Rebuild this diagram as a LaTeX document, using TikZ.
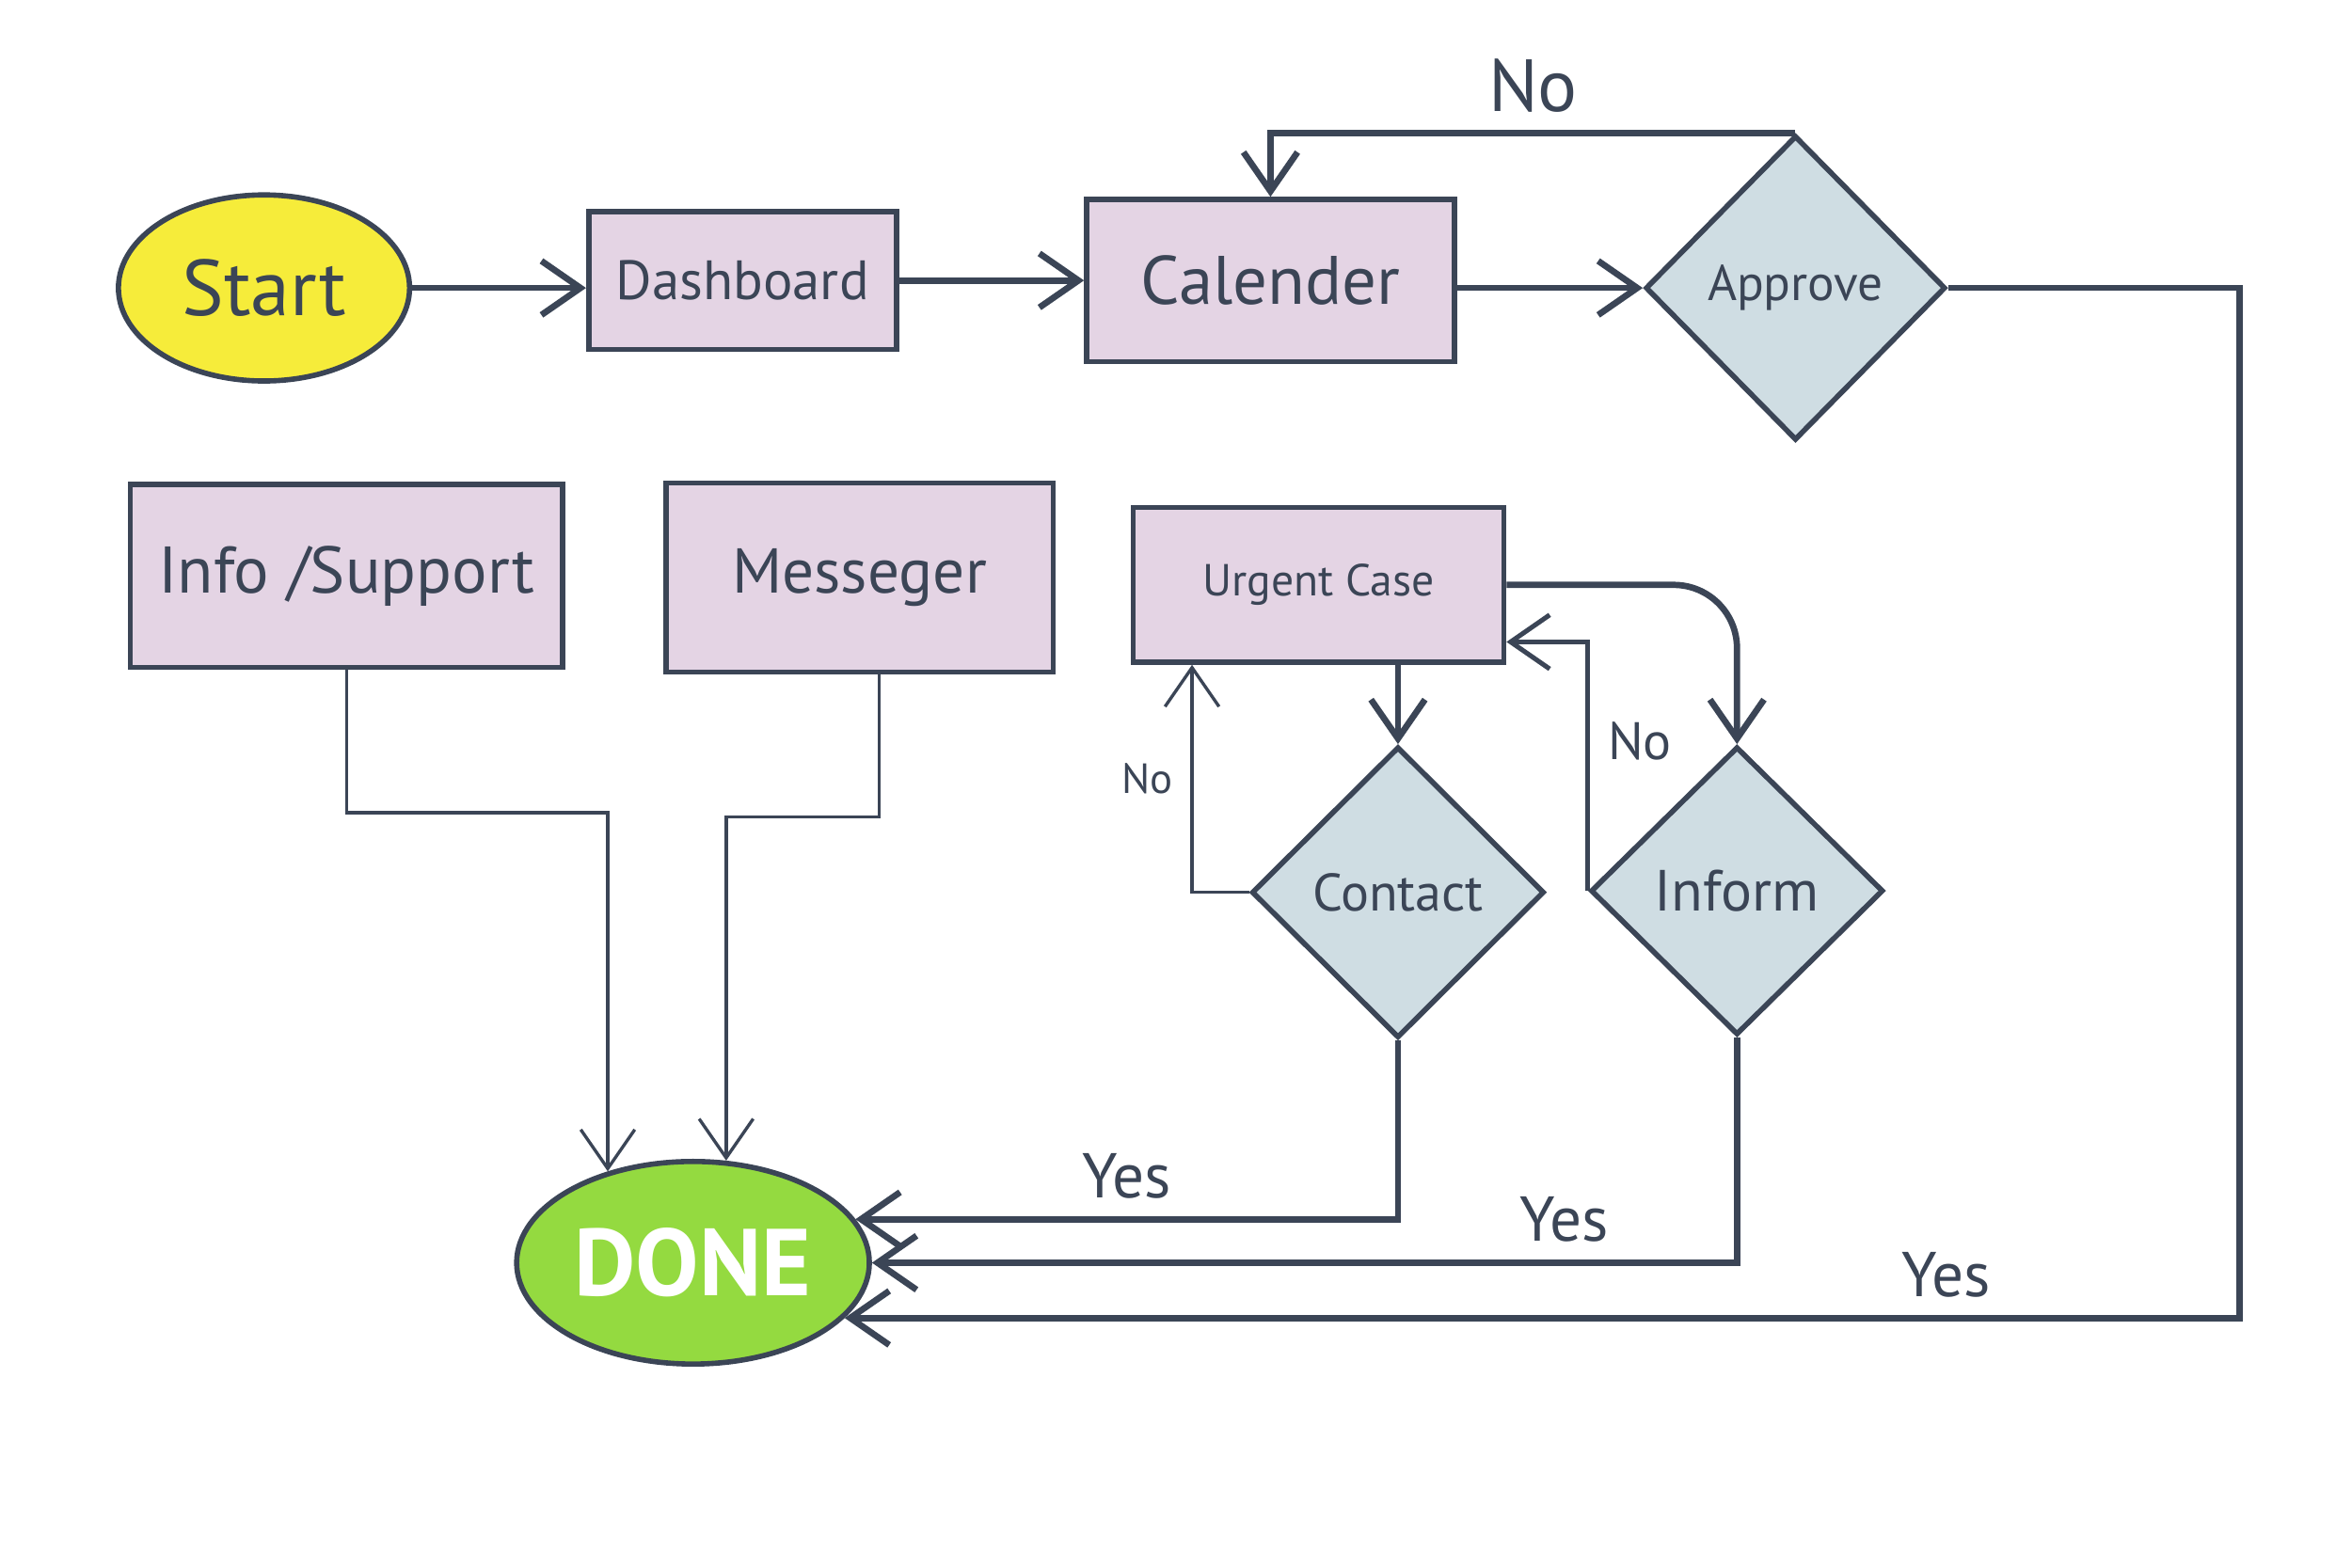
\documentclass[tikz,border=0pt]{standalone}
\usepackage{fontspec}
\setmainfont{PT Sans}
\usepackage{xcolor}
\usepackage{tikz}
\usetikzlibrary{arrows.meta, shapes.geometric}

\definecolor{ink}{HTML}{3B4556}
\definecolor{lilac}{HTML}{E4D4E4}
\definecolor{sky}{HTML}{CFDDE3}
\definecolor{sunny}{HTML}{F6EC3A}
\definecolor{lime}{HTML}{94DA40}

\begin{document}
\begin{tikzpicture}[
  x=0.01cm, y=-0.01cm,
  >={Straight Barb[length=2.6mm, width=3.6mm]},
  proc/.style={draw=ink, line width=1pt, fill=lilac, text=ink},
  dec/.style={draw=ink, line width=1pt, fill=sky, diamond, inner sep=0pt, text=ink},
  term/.style={draw=ink, line width=1pt, ellipse, inner sep=0pt},
  flow/.style={->, draw=ink, line width=1.2pt},
  thinflow/.style={->, draw=ink, line width=0.6pt},
  answer/.style={text=ink, font=\fontsize{12}{14}\selectfont},
]
\useasboundingbox (0,0) rectangle (1568,1045);
% Top row
\node[term, fill=sunny, minimum width=1.94cm, minimum height=1.24cm, text=ink,
      font=\fontsize{15}{18}\selectfont] (start) at (176,192) {Start};
\node[proc, minimum width=2.05cm, minimum height=0.92cm,
      font=\fontsize{10.5}{13}\selectfont] (dash) at (495,187) {Dashboard};
\node[proc, minimum width=2.45cm, minimum height=1.08cm,
      font=\fontsize{13}{16}\selectfont] (cal) at (847,187) {Calender};
\node[dec, minimum width=2.0cm, minimum height=2.03cm,
      font=\fontsize{9.5}{12}\selectfont] (appr) at (1197,192) {Approve};
% Middle row
\node[proc, minimum width=2.88cm, minimum height=1.22cm,
      font=\fontsize{12.5}{15}\selectfont] (info) at (231,384) {Info /Support};
\node[proc, minimum width=2.58cm, minimum height=1.26cm,
      font=\fontsize{12}{15}\selectfont] (mess) at (573,385) {Messeger};
\node[proc, minimum width=2.47cm, minimum height=1.03cm,
      font=\fontsize{8.5}{10}\selectfont] (urg) at (879,390) {Urgent Case};
\node[dec, minimum width=1.95cm, minimum height=1.94cm,
      font=\fontsize{10}{12}\selectfont] (cont) at (932,595) {Contact};
\node[dec, minimum width=1.95cm, minimum height=1.92cm,
      font=\fontsize{11}{13}\selectfont] (inf) at (1158,594) {Inform};
% End
\node[term, fill=lime, minimum width=2.35cm, minimum height=1.35cm, text=white,
      font=\bfseries\fontsize{18}{22}\selectfont] (done) at (462,842) {DONE};
\coordinate (rgt) at (1493,0);
% top row arrows
\draw[flow] (start.east) -- (start.east -| dash.west);
\draw[flow] (dash) -- (cal);
\draw[flow] (cal.east |- appr.west) -- (appr.west);
\draw[flow] (appr.north) -| node[answer, pos=0.25, above, font=\fontsize{14}{16}\selectfont] {No} (cal.north);
\draw[flow] (appr.east) -| (rgt |- done.-20)
      -- node[answer, pos=0.21, above] {Yes} (done.-20);
% urgent case loop
\draw[flow] (cont.north |- urg.south) -- (cont.north);
\draw[flow, rounded corners=12] (urg.east) -| (inf.north);
\draw[thinflow] (cont.west) -| node[answer, pos=0.75, left, font=\fontsize{8}{10}\selectfont] {No}
      ([xshift=4.1mm]urg.south west);
\draw[flow, line width=0.9pt] (inf.west) |- node[answer, pos=0.3, right, font=\fontsize{10}{12}\selectfont] {No}
      ([yshift=-3.8mm]urg.east);
\draw[flow] (cont.south) |- node[answer, pos=0.75, above] {Yes} (done.15);
\draw[flow] (inf.south) |- node[answer, pos=0.6, above] {Yes} (done.east);
% side boxes into done
\draw[thinflow] (info.south) -- ++(0,95) -| (done.133);
\draw[thinflow] ([xshift=1.3mm]mess.south) -- ++(0,95) -| (done.72);
\end{tikzpicture}
\end{document}
